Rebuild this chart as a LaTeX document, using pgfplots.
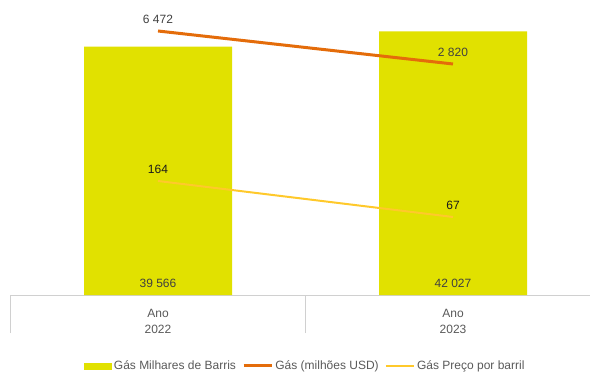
\documentclass[border=0pt]{standalone}
\usepackage{fontspec}
\setmainfont{Liberation Sans}
\usepackage{pgfplots}
\pgfplotsset{compat=1.18}
\definecolor{barc}{HTML}{E1E100}
\definecolor{orangec}{HTML}{E46C0A}
\definecolor{yellowc}{HTML}{FFC92B}
\definecolor{txtd}{HTML}{404040}
\definecolor{txtk}{HTML}{1A1A1A}
\definecolor{txtg}{HTML}{595959}
\definecolor{linec}{HTML}{D0D0D0}
\begin{document}
\begin{tikzpicture}[font=\fontsize{12bp}{16bp}\selectfont]
\path[use as bounding box] (0,0) rectangle (590bp,374bp);
\pgfplotsset{every axis/.append style={scale only axis, width=590bp, height=275bp,
  at={(10.5bp,79bp)}, anchor=south west, xmin=-0.5, xmax=1.5, clip=false}}
% bars
\begin{axis}[ymin=0, ymax=43825,
  axis x line*=bottom, axis y line=none,
  axis line style={linec, line width=0.8bp, -},
  xtick={0,1}, xticklabels={{Ano\\2022},{Ano\\2023}},
  major tick length=0pt,
  xticklabel style={align=center, anchor=north, inner sep=0pt, yshift=-13.7bp, text=txtg},
  extra x ticks={-0.5,0.5,1.5}, extra x tick labels={},
  extra x tick style={major tick length=38bp, tick align=outside, tick style={linec, line width=0.8bp}},
  ]
\addplot[ybar, bar width=148bp, fill=barc, draw=none] coordinates {(0,39566) (1,42027)};
\addplot[draw=none, mark=none, nodes near coords, point meta=explicit symbolic,
  every node near coord/.append style={anchor=center, yshift=12bp, text=txtd}]
  coordinates {(0,0) [39 566] (1,0) [42 027]};
\end{axis}
% orange line
\begin{axis}[ymin=-22745, ymax=7689, hide axis]
\addplot[orangec, line width=3bp, mark=none, nodes near coords, point meta=explicit symbolic,
  every node near coord/.append style={anchor=center, yshift=12bp, text=txtd}]
  coordinates {(0,6472) [6 472] (1,2820) [2 820]};
\end{axis}
% yellow line + legend
\begin{axis}[ymin=-143.2, ymax=597.8, hide axis,
  legend image code/.code={\draw[#1] (0bp,0bp) -- (28bp,0bp);},
  legend columns=-1,
  legend style={at={(0.5,-0.258)}, anchor=center, draw=none, fill=none,
    text=txtg, /tikz/every even column/.append style={column sep=4bp},
    nodes={inner sep=2.2bp}},
  ]
\addlegendimage{legend image code/.code={\fill[barc] (0bp,-3bp) rectangle (27bp,3bp);}}
\addlegendentry{Gás Milhares de Barris}
\addlegendimage{orangec, line width=3bp}
\addlegendentry{Gás (milhões USD)}
\addplot[yellowc, line width=2bp, mark=none, nodes near coords, point meta=explicit symbolic,
  every node near coord/.append style={anchor=center, yshift=12bp, text=txtk}]
  coordinates {(0,164) [164] (1,67) [67]};
\addlegendentry{Gás Preço por barril}
\end{axis}
\end{tikzpicture}
\end{document}
